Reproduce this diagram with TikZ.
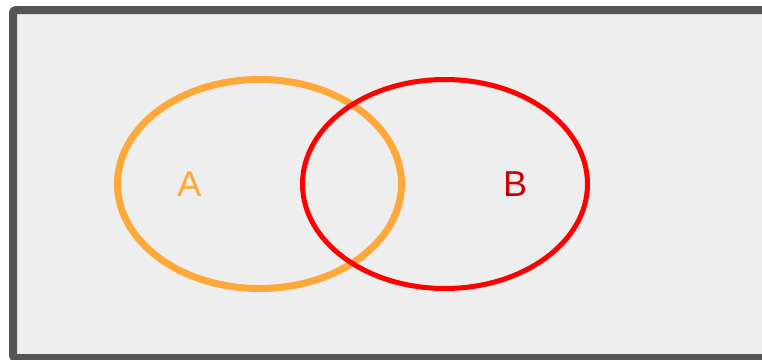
\documentclass[tikz,border=0pt]{standalone}
\usepackage{fontspec}
\setsansfont{Liberation Sans}
\usetikzlibrary{positioning}
\definecolor{frame}{RGB}{85,85,85}
\definecolor{paper}{RGB}{238,238,238}
\definecolor{setA}{RGB}{255,168,58}
\definecolor{setB}{RGB}{255,0,0}
\definecolor{labelB}{RGB}{204,0,0}

\begin{document}
\begin{tikzpicture}[x=1pt, y=-1pt,
    setlabel/.style={font=\sffamily\fontsize{36}{40}\selectfont, inner sep=0pt}]
    \useasboundingbox (0,0) rectangle (762,359);
    \begin{scope}
    \clip (0,0) rectangle (762,359);
    % universe
    \draw[frame, fill=paper, line width=8pt, rounded corners=3pt] (13,10) rectangle (800,358);
    % set A
    \draw[setA, line width=7pt] (259.5,184) ellipse [x radius=142, y radius=104.5];
    \node[setlabel, text=setA] (A) at (189.5,184) {A};
    % set B
    \draw[setB, line width=5pt] (445,184) ellipse [x radius=142.5, y radius=104.5];
    \node[setlabel, text=labelB] (B) at (515,184) {B};
    \end{scope}
\end{tikzpicture}
\end{document}
